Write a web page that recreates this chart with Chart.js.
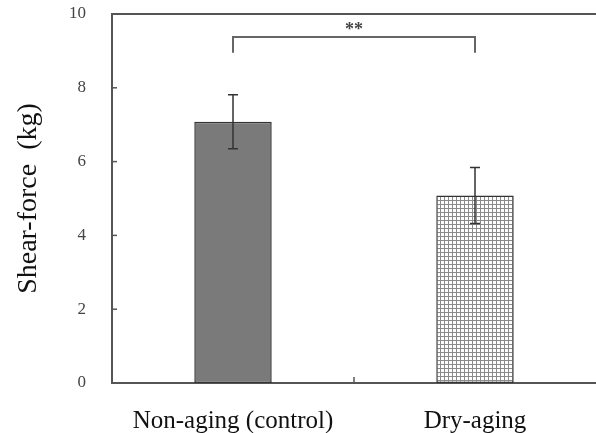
<!DOCTYPE html>
<html>
<head>
<meta charset="utf-8">
<script src="https://cdn.jsdelivr.net/npm/chart.js@4"></script>
<style>
  html, body { margin: 0; padding: 0; background: #fff; }
  #wrap { width: 596px; height: 433px; }
</style>
</head>
<body>
<div id="wrap"><canvas id="chart"></canvas></div>
<script>
// data
const categories = ['Non-aging (control)', 'Dry-aging'];
const shearForce = [7.08, 5.08];
const errors = [0.73, 0.76];
const yTicks = [0, 2, 4, 6, 8, 10];
const signifLabel = '**';

const AXIS = '#555';
const serif = '"Liberation Serif", "Times New Roman", serif';

// checkered fill for the dry-aging bar
function gridPattern() {
  const c = document.createElement('canvas');
  c.width = 4; c.height = 4;
  const g = c.getContext('2d');
  g.fillStyle = '#fff';
  g.fillRect(0, 0, 4, 4);
  g.fillStyle = '#8a8a8a';
  g.fillRect(0, 0, 4, 1);
  g.fillRect(0, 0, 1, 4);
  return g.createPattern(c, 'repeat');
}

// frame top, inward ticks, error bars and significance bracket
const extras = {
  id: 'extras',
  afterDatasetsDraw(chart) {
    const { ctx, chartArea: a, scales: { x, y } } = chart;
    ctx.save();
    ctx.strokeStyle = AXIS;
    ctx.lineWidth = 2;
    ctx.beginPath();
    ctx.moveTo(a.left, a.top);
    ctx.lineTo(a.right, a.top);
    ctx.stroke();

    ctx.lineWidth = 1.5;
    yTicks.forEach(v => {
      if (v === 0 || v === 10) return;
      const py = y.getPixelForValue(v);
      ctx.beginPath();
      ctx.moveTo(a.left, py);
      ctx.lineTo(a.left + 5, py);
      ctx.stroke();
    });
    // category divider tick
    const mid = (x.getPixelForValue(0) + x.getPixelForValue(1)) / 2;
    ctx.beginPath();
    ctx.moveTo(mid, a.bottom);
    ctx.lineTo(mid, a.bottom - 6);
    ctx.stroke();

    // error bars
    ctx.strokeStyle = '#333';
    ctx.lineWidth = 1.5;
    shearForce.forEach((v, i) => {
      const px = x.getPixelForValue(i);
      const top = y.getPixelForValue(v + errors[i]);
      const bot = y.getPixelForValue(v - errors[i]);
      ctx.beginPath();
      ctx.moveTo(px, top); ctx.lineTo(px, bot);
      ctx.moveTo(px - 5, top); ctx.lineTo(px + 5, top);
      ctx.moveTo(px - 5, bot); ctx.lineTo(px + 5, bot);
      ctx.stroke();
    });

    // significance bracket
    const x0 = x.getPixelForValue(0), x1 = x.getPixelForValue(1);
    const yb = y.getPixelForValue(9.38), yl = y.getPixelForValue(8.95);
    ctx.strokeStyle = '#666';
    ctx.lineWidth = 2;
    ctx.beginPath();
    ctx.moveTo(x0, yl); ctx.lineTo(x0, yb); ctx.lineTo(x1, yb); ctx.lineTo(x1, yl);
    ctx.stroke();
    ctx.fillStyle = '#444';
    ctx.font = 'bold 18px ' + serif;
    ctx.textAlign = 'center';
    ctx.textBaseline = 'middle';
    ctx.fillText(signifLabel, (x0 + x1) / 2, y.getPixelForValue(9.55));
    ctx.restore();
  }
};

new Chart(document.getElementById('chart'), {
  type: 'bar',
  data: {
    labels: categories,
    datasets: [{
      data: shearForce,
      backgroundColor: ['#7a7a7a', gridPattern()],
      borderColor: '#333',
      borderWidth: 1.5,
      borderSkipped: false,
      categoryPercentage: 1,
      barPercentage: 0.32
    }]
  },
  options: {
    responsive: true,
    maintainAspectRatio: false,
    animation: false,
    layout: { padding: { top: 14, right: 0, left: 0, bottom: 0 } },
    plugins: { legend: { display: false }, tooltip: { enabled: false } },
    scales: {
      x: {
        grid: { display: false },
        border: { display: true, color: AXIS, width: 2 },
        ticks: { color: '#111', padding: 15, font: { family: serif, size: 25 } },
        afterFit: s => { s.height = 50; s.paddingLeft = 0; s.paddingRight = 0; }
      },
      y: {
        min: 0,
        max: 10,
        grid: { display: false },
        border: { display: true, color: AXIS, width: 2 },
        afterBuildTicks: s => { s.ticks = yTicks.map(v => ({ value: v })); },
        ticks: { color: '#444', padding: 18, font: { family: serif, size: 17 } },
        title: {
          display: true,
          text: 'Shear-force  (kg)',
          color: '#111',
          padding: { top: 12, bottom: 0 },
          font: { family: serif, size: 28 }
        },
        afterFit: s => { s.width = 112; s.paddingTop = 0; s.paddingBottom = 0; }
      }
    }
  },
  plugins: [extras]
});
</script>
</body>
</html>
